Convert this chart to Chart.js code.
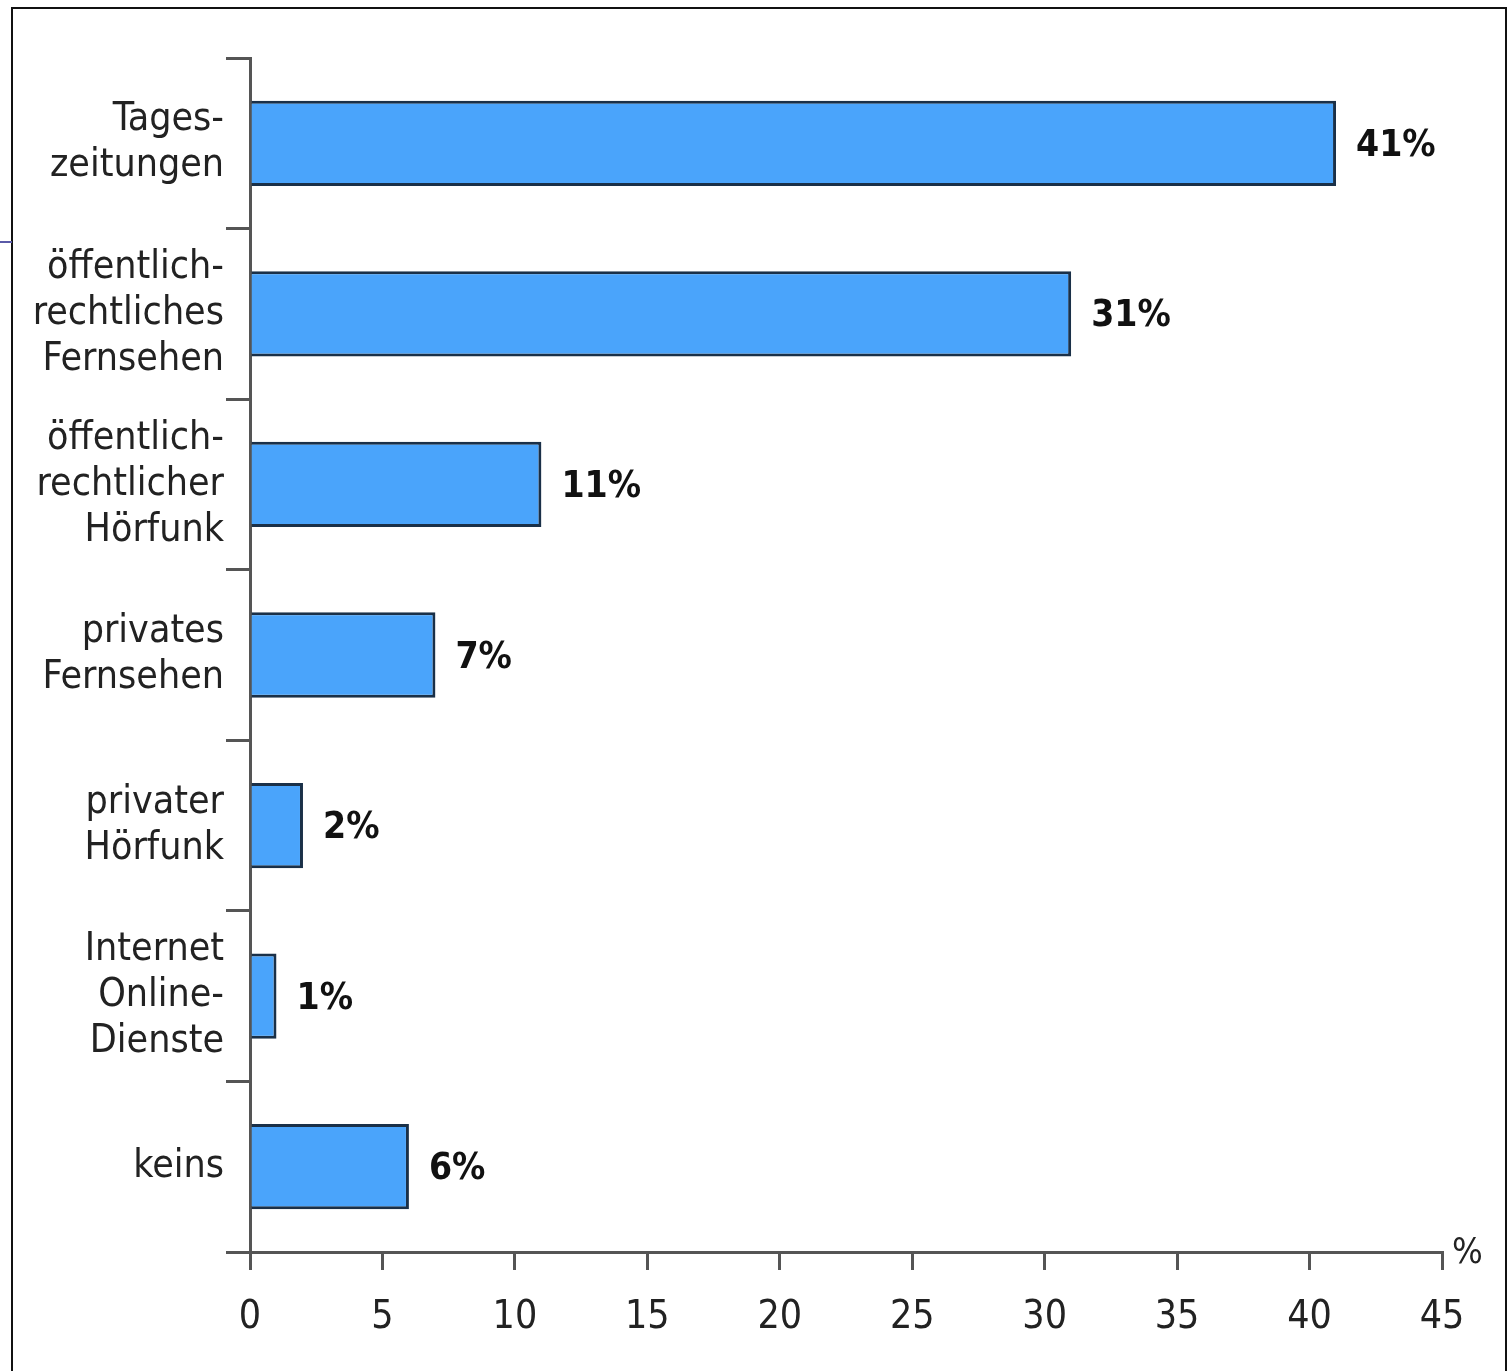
<!DOCTYPE html>
<html>
<head>
<meta charset="utf-8">
<script src="https://cdn.jsdelivr.net/npm/chart.js@4"></script>
<style>
  html, body { margin: 0; padding: 0; background: #fff; }
  #wrap { position: relative; width: 1512px; height: 1371px; overflow: hidden; }
  #frame { position: absolute; left: 11px; top: 7px; width: 1496px; height: 1400px;
           border: 2px solid #111; box-sizing: border-box; }
  #mark { position: absolute; left: 0; top: 241px; width: 12px; height: 2px; background: #5a5aa8; }
  canvas { position: absolute; left: 0; top: 0; }
</style>
</head>
<body>
<div id="wrap">
  <div id="frame"></div>
  <div id="mark"></div>
  <canvas id="chart" width="1512" height="1371"></canvas>
</div>
<script>
const categories = [
  ['Tages-', 'zeitungen'],
  ['öffentlich-', 'rechtliches', 'Fernsehen'],
  ['öffentlich-', 'rechtlicher', 'Hörfunk'],
  ['privates', 'Fernsehen'],
  ['privater', 'Hörfunk'],
  ['Internet', 'Online-', 'Dienste'],
  ['keins']
];
const shares = [41, 31, 11, 7, 2, 1, 6];
const xTicks = [0, 5, 10, 15, 20, 25, 30, 35, 40, 45];

const FONT = '"Liberation Sans Narrow", "DejaVu Sans Condensed", sans-serif';
const AXIS = '#555';

// value labels next to the bars and the "%" unit at the end of the x axis
const labelPlugin = {
  id: 'barLabels',
  afterDatasetsDraw(chart) {
    const ctx = chart.ctx;
    const meta = chart.getDatasetMeta(0);
    ctx.save();
    ctx.fillStyle = '#111';
    ctx.font = 'bold 37px ' + FONT;
    ctx.textAlign = 'left';
    ctx.textBaseline = 'middle';
    meta.data.forEach((bar, i) => {
      ctx.fillText(shares[i] + '%', bar.x + 20, bar.y + 3);
    });
    const x = chart.scales.x;
    ctx.font = '36px ' + FONT;
    ctx.fillStyle = '#222';
    ctx.fillText('%', x.right + 10, x.top + 2);
    ctx.restore();
  }
};

new Chart(document.getElementById('chart'), {
  type: 'bar',
  data: {
    labels: categories,
    datasets: [{
      data: shares,
      backgroundColor: '#4aa4fb',
      borderColor: '#1a3048',
      borderWidth: 3,
      borderSkipped: 'start',
      barPercentage: 0.5,
      categoryPercentage: 1
    }]
  },
  options: {
    indexAxis: 'y',
    responsive: false,
    animation: false,
    layout: { padding: { top: 58, right: 70, left: 0, bottom: 0 } },
    plugins: { legend: { display: false }, tooltip: { enabled: false } },
    scales: {
      x: {
        min: 0,
        max: 45,
        afterBuildTicks(scale) { scale.ticks = xTicks.map(v => ({ value: v })); },
        afterFit(scale) { scale.height = 119; },
        border: { color: AXIS, width: 3 },
        grid: { drawOnChartArea: false, color: AXIS, tickColor: AXIS, tickLength: 18, lineWidth: 3 },
        ticks: { color: '#222', font: { family: FONT, size: 39 }, padding: 24, maxRotation: 0 }
      },
      y: {
        afterFit(scale) { scale.width = 250; },
        border: { color: AXIS, width: 3 },
        grid: { offset: true, drawOnChartArea: false, color: AXIS, tickColor: AXIS, tickLength: 24, lineWidth: 3 },
        ticks: { color: '#222', font: { family: FONT, size: 39, lineHeight: 1.18 }, padding: 2, crossAlign: 'near' }
      }
    }
  },
  plugins: [labelPlugin]
});
</script>
</body>
</html>
